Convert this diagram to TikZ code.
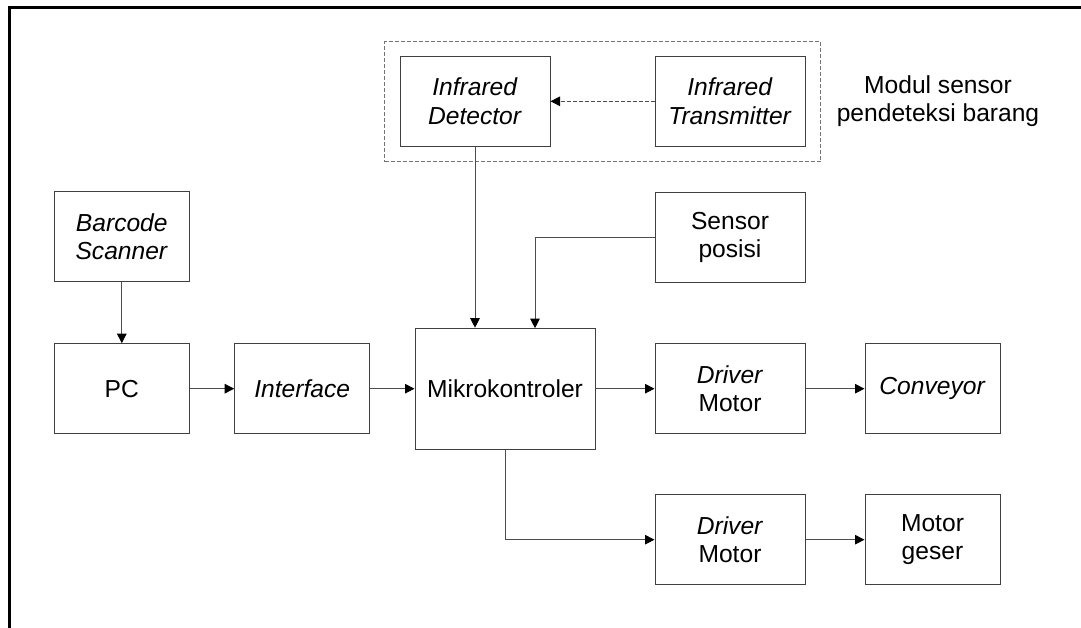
\documentclass[tikz,border=0pt]{standalone}
\usepackage{fontspec}
\setmainfont{Liberation Sans}
\usetikzlibrary{arrows.meta}
\begin{document}
\begin{tikzpicture}[x=1pt, y=-1pt,
    font=\fontsize{24.6}{28.3}\selectfont,
    block/.style={draw=black!75, line width=1pt, rectangle, minimum width=150pt, minimum height=90pt, align=center, inner sep=0pt},
    conn/.style={draw=black!70, line width=1pt, -{Triangle[length=9.5pt,width=9.5pt,color=black]}}]
      \useasboundingbox (0,0) rectangle (1081,628);

      % Frame
      \draw[line width=3pt] (1081,7.5) -- (9.5,7.5) -- (9.5,628);

      % Sensor module
      \node (MOD) [draw=black!55, line width=1pt, dash pattern=on 4pt off 2pt, rectangle, minimum width=436pt, minimum height=120pt] at (602.5,101.7) {};
      \node (ID) [block] at (475,101.3) {\textit{Infrared}\\\textit{Detector}};
      \node (IT) [block] at (730,101.3) {\textit{Infrared}\\\textit{Transmitter}};
      \node (MODL) [align=center] at (938,101) {Modul sensor\\pendeteksi barang};

      % Left chain
      \node (BS) [block, minimum width=135pt] at (121.8,237) {\textit{Barcode}\\\textit{Scanner}};
      \node (PC) [block, minimum width=135pt] at (121.8,388.7) {PC};
      \node (IF) [block, minimum width=135pt] at (302.2,388.7) {\textit{Interface}};

      % Controller
      \node (MK) [block, minimum width=180pt, minimum height=121pt] at (505,388.7) {Mikrokontroler};
      \coordinate (MKin) at (535,328.2);

      % Right side
      \node (SP) [block] at (730,237.5) {Sensor\\posisi};
      \node (DM1) [block] at (730,388.7) {\textit{Driver}\\Motor};
      \node (CV) [block, minimum width=135pt] at (932.5,388.7) {\textit{Conveyor}};
      \node (DM2) [block] at (730,539.7) {\textit{Driver}\\Motor};
      \node (MG) [block, minimum width=135pt] at (932.5,539.7) {Motor\\geser};

      % Connections
      \draw[conn, dash pattern=on 4pt off 2pt] (IT) -- (ID);
      \draw[conn] (ID) -- (MK.north -| ID);
      \draw[conn] (SP.west) -| (MKin);
      \draw[conn] (BS) -- (PC);
      \foreach \a/\b in {PC/IF, IF/MK, MK/DM1, DM1/CV, DM2/MG} {
          \draw[conn] (\a) -- (\b);
        }
      \draw[conn] (MK.south) |- (DM2.west);
    \end{tikzpicture}
\end{document}
